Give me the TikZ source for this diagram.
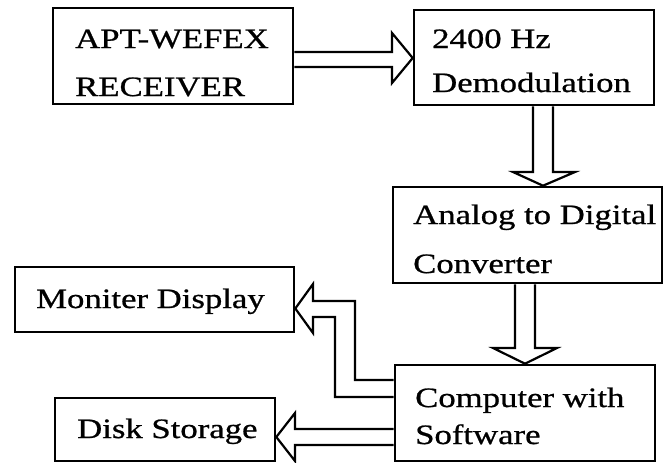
\documentclass[tikz,border=0pt]{standalone}
\usepackage{fontspec}
\setmainfont{Liberation Serif}[FakeStretch=1.24, FakeBold=0.8]
\usetikzlibrary{calc}
\tikzset{
  box/.style={rectangle, draw=black, line width=2.6pt, inner sep=0pt},
  lbl/.style={anchor=base west, inner sep=0pt, font=\fontsize{28pt}{32pt}\selectfont},
  blk/.style={draw=black, line width=2.2pt, line join=miter},
}

\begin{document}
\begin{tikzpicture}[x=1pt, y=-1pt]
  \useasboundingbox (0,0) rectangle (664,463);
  % blocks
  \node[box, minimum width=240, minimum height=96] (rx) at (173,56) {};
  \node[box, minimum width=240, minimum height=95] (dm) at (534,57.5) {};
  \node[box, minimum width=269, minimum height=96] (ad) at (527.5,235) {};
  \node[box, minimum width=260, minimum height=96] (pc) at (525,413) {};
  \node[box, minimum width=279, minimum height=65] (mon) at (154.5,299.5) {};
  \node[box, minimum width=220, minimum height=63] (disk) at (165,429.5) {};
  % texts
  \node[lbl] (rx1) at (75,48) {APT-WEFEX};
  \node[lbl] (rx2) at (75,96) {RECEIVER};
  \node[lbl] (dm1) at (432,48) {2400 Hz};
  \node[lbl] (dm2) at (432,92) {Demodulation};
  \node[lbl] (ad1) at (413,224) {Analog to Digital};
  \node[lbl] (ad2) at (413,273) {Converter};
  \node[lbl] (pc1) at (415,407) {Computer with};
  \node[lbl] (pc2) at (415,444) {Software};
  \node[lbl] (mon1) at (36,308) {Moniter Display};
  \node[lbl] (disk1) at (77,438) {Disk Storage};
  % hollow arrows
  \draw[blk] (rx.east |- 0,52) -- (392,52) -- (392,33) -- (dm.west |- 0,58) -- (392,83) -- (392,67)
    -- (rx.east |- 0,67);
  \draw[blk] (533,0 |- dm.south) -- (533,172) -- (513,172) -- (543,0 |- ad.north) -- (575,172) -- (553,172)
    -- (553,0 |- dm.south);
  \draw[blk] (515,0 |- ad.south) -- (515,348) -- (493,348) -- (525,0 |- pc.north) -- (557,348) -- (535,348)
    -- (535,0 |- ad.south);
  \draw[blk] (pc.west |- 0,380) -- (355,380) -- (355,301) -- (313,301) -- (313,284) -- (mon.east |- 0,308.5)
    -- (313,333) -- (313,317) -- (335,317) -- (335,397) -- (pc.west |- 0,397);
  \draw[blk] (pc.west |- 0,429) -- (295,429) -- (295,413) -- (disk.east |- 0,437) -- (295,461) -- (295,445)
    -- (pc.west |- 0,445);
\end{tikzpicture}
\end{document}
